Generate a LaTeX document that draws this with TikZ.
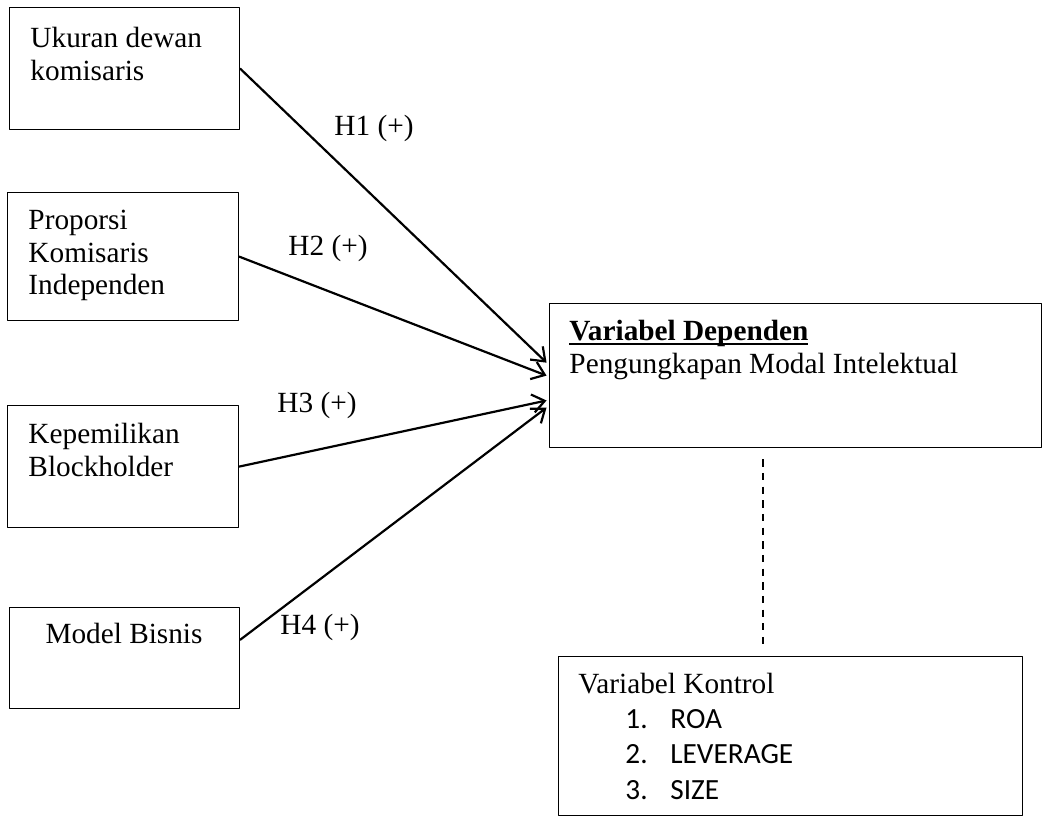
\documentclass[tikz,border=0pt]{standalone}
\usepackage{fontspec}
\setmainfont{Liberation Serif}
\newfontfamily\listfont{Carlito}
\usetikzlibrary{arrows.meta}
\newcommand\wordul[1]{\setbox0\hbox{#1}\rlap{\rule[-1.6pt]{\wd0}{0.65pt}}\box0}

\begin{document}
\begin{tikzpicture}[x=0.0144cm,y=-0.0144cm,line cap=round,line join=round,
    varbox/.style={draw,line width=0.5pt,inner sep=0pt,anchor=north west},
    boxtext/.style={inner sep=0pt,align=left,font=\fontsize{12}{13.3}\selectfont},
    hyp/.style={line width=0.9pt,-{Straight Barb[length=5pt,width=7.5pt,line width=0.9pt]}},
    hlabel/.style={inner sep=0pt,font=\fontsize{12}{14}\selectfont},
    ctrlline/.style={line width=0.6pt,dash pattern=on 3pt off 2.6pt,line cap=butt}]
  \useasboundingbox (0,0) rectangle (1043,816);
  \node[varbox,minimum width=3.312cm,minimum height=1.757cm] (b1) at (9,7) {};
  \node[varbox,minimum width=3.326cm,minimum height=1.843cm] (b2) at (7,192) {};
  \node[varbox,minimum width=3.326cm,minimum height=1.757cm] (b3) at (7,405) {};
  \node[varbox,minimum width=3.312cm,minimum height=1.454cm] (b4) at (9,607) {};
  \node[varbox,minimum width=7.085cm,minimum height=2.074cm] (dep) at (549,303) {};
  \node[varbox,minimum width=6.682cm,minimum height=2.290cm] (ctrl) at (558,656) {};
  \node[boxtext,anchor=north west] (t1) at (30,27) {Ukuran dewan\\komisaris};
  \node[boxtext,anchor=north west] (t2) at (28,210) {Proporsi\\Komisaris\\Independen};
  \node[boxtext,anchor=north west] (t3) at (28,423) {Kepemilikan\\Blockholder};
  \node[boxtext,anchor=base] (t4) at (124,643) {Model Bisnis};
  \node[boxtext,anchor=north west] (tdep) at (569,320)
    {\wordul{\textbf{Variabel Dependen}}\\Pengungkapan Modal Intelektual};
  \node[boxtext,anchor=base west] (tctrl) at (578,693) {Variabel Kontrol};
  \node[inner sep=0pt,align=left,anchor=north west,
    font=\listfont\fontsize{12}{14.5}\selectfont] (tlist) at (625,709)
    {\makebox[18.4pt][l]{1.}ROA\\\makebox[18.4pt][l]{2.}LEVERAGE\\\makebox[18.4pt][l]{3.}SIZE};
  \draw[hyp] (b1.east) -- ([xshift=-1pt,yshift=5.3pt]dep.west);
  \draw[hyp] (b2.east) -- ([xshift=-1pt]dep.west);
  \draw[hyp] (b3.east) -- ([xshift=-1pt,yshift=-10.2pt]dep.west);
  \draw[hyp] ([yshift=7.5pt]b4.east) -- ([xshift=-1pt,yshift=-13.1pt]dep.west);
  \node[hlabel] (h1) at (374,128) {H1 (+)};
  \node[hlabel] (h2) at (328,248) {H2 (+)};
  \node[hlabel] (h3) at (317,405) {H3 (+)};
  \node[hlabel] (h4) at (320,627) {H4 (+)};
  \coordinate (dl) at (763,0);
  \draw[ctrlline,shorten <=4.5pt,shorten >=3.3pt] (dep.south -| dl) -- (ctrl.north -| dl);
\end{tikzpicture}
\end{document}
